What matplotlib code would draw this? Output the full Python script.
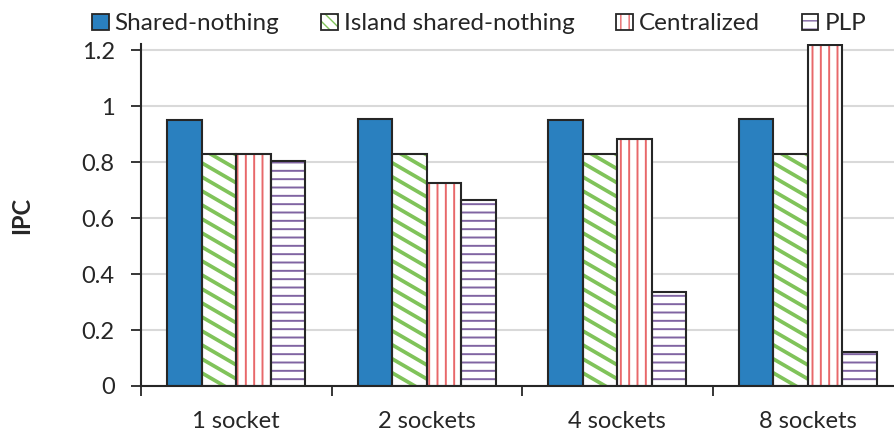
import matplotlib
matplotlib.use("Agg")
import matplotlib.pyplot as plt
import numpy as np
from matplotlib.patches import Patch
from matplotlib.collections import LineCollection
from matplotlib.legend_handler import HandlerTuple

categories = ["1 socket", "2 sockets", "4 sockets", "8 sockets"]
series_names = ["Shared-nothing", "Island shared-nothing", "Centralized", "PLP"]
shared_nothing = [0.95, 0.955, 0.95, 0.955]
island_shared_nothing = [0.83, 0.83, 0.83, 0.83]
centralized = [0.83, 0.726, 0.883, 1.22]
plp = [0.804, 0.666, 0.335, 0.121]
y_ticks = [0, 0.2, 0.4, 0.6, 0.8, 1, 1.2]
y_tick_labels = ["0", "0.2", "0.4", "0.6", "0.8", "1", "1.2"]

plt.rcParams["font.family"] = ["Lato", "DejaVu Sans"]

TEXT = "#262626"
EDGE = "#262626"
BLUE = "#2A80BF"
GREEN = "#80C35A"
RED = "#E8686A"
PURPLE = "#8064A2"

fig = plt.figure(figsize=(8.94, 4.33), dpi=100)
ax = fig.add_axes([141 / 894, 47 / 433, 762 / 894, 342 / 433])
ax.set_xlim(-0.5, 3.5)
ax.set_ylim(0, 1.222)

x = np.arange(len(categories))
width = 0.181
offsets = np.array([-1.5, -0.5, 0.5, 1.5]) * width

# Shared-nothing: solid blue
ax.bar(x + offsets[0], shared_nothing, width, color=BLUE, edgecolor=EDGE,
       linewidth=1.5, zorder=3)

# Island shared-nothing: white with shallow green diagonal stripes
island_bars = ax.bar(x + offsets[1], island_shared_nothing, width, color="white",
                     edgecolor="none", linewidth=0, zorder=2)
to_px = ax.transData
to_data = ax.transData.inverted()
slope = -0.58          # stripe slope in pixel space
spacing = 14.0         # vertical distance between stripes in pixels
for rect in island_bars:
    x0, y0 = to_px.transform((rect.get_x(), 0))
    x1, y1 = to_px.transform((rect.get_x() + rect.get_width(), rect.get_height()))
    segs = []
    c = y0 - 40
    while c < y1 + (x1 - x0) + 40:
        p0 = (x0 - 5, c)
        p1 = (x1 + 5, c + slope * (x1 - x0 + 10))
        segs.append(to_data.transform([p0, p1]))
        c += spacing
    lc = LineCollection(segs, colors=GREEN, linewidths=2.7, zorder=2.5)
    ax.add_collection(lc)
    lc.set_clip_path(rect)
ax.bar(x + offsets[1], island_shared_nothing, width, facecolor="none",
       edgecolor=EDGE, linewidth=1.5, zorder=3)

# Centralized: vertical red lines; PLP: horizontal purple lines
for vals, off, hatch, hc in [(centralized, offsets[2], "||", RED),
                             (plp, offsets[3], "--", PURPLE)]:
    with plt.rc_context({"hatch.linewidth": 1.4}):
        hb = ax.bar(x + off, vals, width, color="white", edgecolor=hc,
                    hatch=hatch, linewidth=0, zorder=2)
    for p in hb:
        if hasattr(p, "set_hatch_linewidth"):
            p.set_hatch_linewidth(1.4)
    ax.bar(x + off, vals, width, facecolor="none", edgecolor=EDGE,
           linewidth=1.5, zorder=3)

ax.set_yticks(y_ticks)
ax.set_yticklabels(y_tick_labels)
ax.set_xticks(x)
ax.set_xticklabels(categories)
ax.set_xticks(np.arange(-0.5, 4.0, 1.0), minor=True)
ax.tick_params(axis="x", which="major", length=0, pad=18, labelsize=17, colors=TEXT)
ax.tick_params(axis="x", which="minor", length=7, width=1.3, direction="out", color=EDGE)
ax.tick_params(axis="y", length=7, width=1.3, direction="out", labelsize=17,
               colors=TEXT, pad=12)

ax.yaxis.grid(True, color="#D9D9D9", linewidth=1.5, zorder=0)
ax.set_axisbelow(True)
for s in ["top", "right"]:
    ax.spines[s].set_visible(False)
for s in ["left", "bottom"]:
    ax.spines[s].set_color(EDGE)
    ax.spines[s].set_linewidth(1.5)
ax.spines["bottom"].set_zorder(4)

ax.set_ylabel("IPC", fontsize=17, fontweight="bold", labelpad=35, color=TEXT)

# Legend: each swatch is a pattern layer under a dark frame
def swatch(fc, hatch=None, hc=None):
    with plt.rc_context({"hatch.linewidth": 1.4}):
        base = Patch(facecolor=fc, edgecolor=hc if hc else "none", hatch=hatch,
                     linewidth=0)
    frame = Patch(facecolor="none", edgecolor=EDGE, linewidth=1.3)
    return (base, frame)

handles = [swatch(BLUE), swatch("white", "\\\\\\", GREEN),
           swatch("white", "||", RED), swatch("white", "--", PURPLE)]
leg = fig.legend(handles=handles, labels=series_names, loc="center left",
                 bbox_to_anchor=(92 / 894, 1 - 24 / 433), ncol=4, frameon=False,
                 fontsize=17.5, handlelength=0.68, handleheight=0.68,
                 handletextpad=0.25, columnspacing=1.72, borderaxespad=0,
                 borderpad=0,
                 handler_map={tuple: HandlerTuple(ndivide=1, pad=0)})
for t in leg.get_texts():
    t.set_color(TEXT)

fig.savefig("out.png", dpi=100)
